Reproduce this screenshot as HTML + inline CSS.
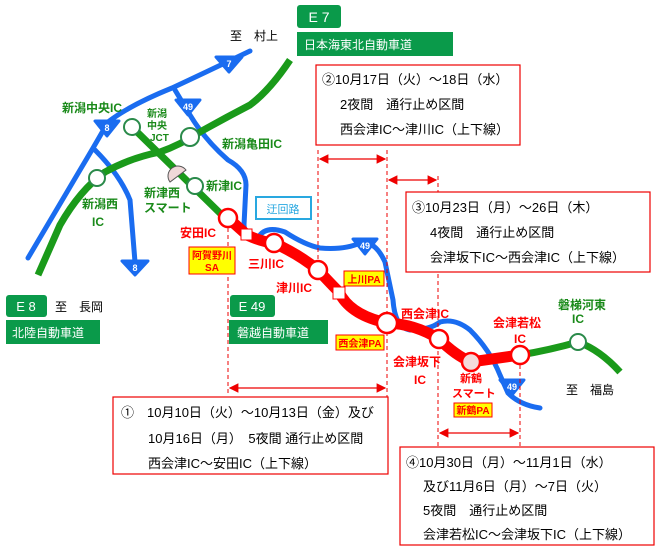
<!DOCTYPE html>
<html><head><meta charset="utf-8"><style>
html,body{margin:0;padding:0;background:#fff}
svg{display:block}
text{font-family:"Liberation Sans","Noto Sans CJK JP",sans-serif}
</style></head><body>
<svg width="660" height="549" viewBox="0 0 660 549" xmlns="http://www.w3.org/2000/svg">
<defs>
<marker id="a" markerWidth="8" markerHeight="8" refX="7" refY="4" orient="auto-start-reverse"><path d="M0,0 L8,4 L0,8 z" fill="#e00"/></marker>
</defs>
<!-- blue roads -->
<g fill="none" stroke="#1a6cf0" stroke-width="5" stroke-linecap="round">
<path d="M250,51 Q200,75 172,88 Q130,105 108,122 Q95,145 80,170 L28,258"/>
<path d="M95,150 Q120,175 130,200 L135,262"/>
<path d="M175,90 L190,115 Q205,140 228,160 Q246,170 246,185 L244,225 Q245,240 258,238 Q265,225 285,232 Q305,245 320,248 Q345,250 360,243 Q375,240 385,262 L393,300 Q395,328 410,330 Q430,330 440,322 Q455,318 470,330 Q490,350 500,375 L508,393 Q520,405 540,408"/>
</g>
<!-- green roads -->
<g fill="none" stroke="#1a9a1a" stroke-width="7" stroke-linecap="butt">
<path d="M290,60 Q270,90 250,105 Q225,118 200,132 Q180,145 160,152 Q130,158 105,172 Q80,190 60,225 L38,275"/>
<path d="M132,127 L225,218"/>
<path d="M520,355 Q550,350 578,342 Q600,350 620,372"/>
</g>
<!-- red road -->
<path d="M228,218 L247,235 Q262,242 274,243 Q300,255 318,270 Q332,285 339,292 Q350,315 387,323 Q415,324 439,339 Q455,355 471,362 L520,355" fill="none" stroke="#f00" stroke-width="11"/>
<!-- shields -->
<g fill="#1a6cf0" stroke="#1a6cf0" stroke-width="3" stroke-linejoin="round">
<path d="M216,57 h26 l-13,15 z"/><path d="M176,100 h24 l-12,15 z"/><path d="M95,121 h24 l-12,15 z"/><path d="M122,261 h26 l-13,14 z"/><path d="M353,239 h24 l-12,15 z"/><path d="M500,380 h24 l-12,15 z"/>
</g>
<g fill="#fff" font-size="9" font-weight="bold" text-anchor="middle">
<text x="229" y="67">7</text><text x="188" y="110">49</text><text x="107" y="131">8</text><text x="135" y="271">8</text><text x="365" y="249">49</text><text x="512" y="390">49</text>
</g>
<!-- dashed lines -->
<g stroke="#e00" stroke-width="1" stroke-dasharray="4,3">
<path d="M228,228 V395"/><path d="M318,150 V270"/><path d="M387,150 V397"/><path d="M438,176 V447"/><path d="M520,365 V447"/>
</g>
<!-- circles -->
<g stroke="#2a8a4a" stroke-width="2" fill="#fff">
<circle cx="132" cy="127" r="8"/><circle cx="190" cy="137" r="9"/><circle cx="97" cy="178" r="8"/><circle cx="195" cy="186" r="8"/><circle cx="578" cy="342" r="8"/>
</g>
<path d="M170,182 A10,10 0 0 1 186,170 Z" fill="#f0d8d8" stroke="#555" stroke-width="1"/>
<g stroke="#f00" stroke-width="2.5" fill="#fff">
<circle cx="228" cy="218" r="9"/><circle cx="274" cy="243" r="9"/><circle cx="318" cy="270" r="9"/><circle cx="387" cy="323" r="10"/><circle cx="439" cy="339" r="9"/><circle cx="520" cy="355" r="9"/>
<circle cx="471" cy="362" r="9" fill="#f4dada"/>
<rect x="241" y="229" width="11" height="11" stroke-width="1"/><rect x="333" y="287" width="12" height="12" stroke-width="1"/>
</g>
<g stroke="#e00" stroke-width="1.2" marker-start="url(#a)" marker-end="url(#a)">
<path d="M230,388 H385"/><path d="M320,159 H385"/><path d="M389,180 H436"/><path d="M440,433 H518"/>
</g>
<!-- green labels -->
<g fill="#1a8a1a" font-size="12" font-weight="bold">
<text x="62" y="112">新潟中央IC</text>
<text x="147" y="117" font-size="10">新潟</text><text x="147" y="129" font-size="10">中央</text><text x="150" y="141" font-size="10">JCT</text>
<text x="222" y="148">新潟亀田IC</text>
<text x="206" y="190">新津IC</text>
<text x="144" y="197">新津西</text><text x="144" y="212">スマート</text>
<text x="82" y="208">新潟西</text><text x="92" y="226">IC</text>
<text x="558" y="309">磐梯河東</text><text x="572" y="323">IC</text>
</g>
<!-- red labels -->
<g fill="#f00" font-size="12" font-weight="bold">
<text x="180" y="237">安田IC</text>
<text x="248" y="268">三川IC</text>
<text x="276" y="292">津川IC</text>
<text x="401" y="318">西会津IC</text>
<text x="493" y="327">会津若松</text><text x="514" y="343">IC</text>
<text x="393" y="366">会津坂下</text><text x="414" y="384">IC</text>
<text x="460" y="382" font-size="11">新鶴</text><text x="452" y="397" font-size="11">スマート</text>
</g>
<!-- PA boxes -->
<g stroke="#f00" stroke-width="1" fill="#ff0">
<rect x="189" y="247" width="46" height="27"/><rect x="344" y="271" width="40" height="15"/><rect x="336" y="335" width="48" height="15"/><rect x="454" y="403" width="38" height="14"/>
</g>
<g fill="#f00" font-size="10" font-weight="bold" text-anchor="middle">
<text x="212" y="259">阿賀野川</text><text x="212" y="271">SA</text>
<text x="364" y="283">上川PA</text><text x="360" y="347">西会津PA</text><text x="473" y="414">新鶴PA</text>
</g>
<!-- 迂回路 -->
<rect x="256" y="197" width="55" height="22" fill="#fff" stroke="#29a8e0" stroke-width="2"/>
<text x="283" y="213" fill="#29a8e0" font-size="11" text-anchor="middle">迂回路</text>
<!-- highway badges -->
<rect x="297" y="5" width="44" height="23" rx="3" fill="#0a9a4a"/><text x="319" y="22" fill="#fff" font-size="14" text-anchor="middle">E 7</text>
<rect x="297" y="32" width="156" height="24" fill="#0a9a4a"/><text x="304" y="49" fill="#fff" font-size="12">日本海東北自動車道</text>
<rect x="6" y="295" width="41" height="22" rx="3" fill="#0a9a4a"/><text x="26" y="311" fill="#fff" font-size="13" text-anchor="middle">E 8</text>
<rect x="6" y="320" width="94" height="24" fill="#0a9a4a"/><text x="12" y="337" fill="#fff" font-size="12">北陸自動車道</text>
<rect x="230" y="295" width="45" height="22" rx="3" fill="#0a9a4a"/><text x="252" y="311" fill="#fff" font-size="13" text-anchor="middle">E 49</text>
<rect x="229" y="320" width="99" height="24" fill="#0a9a4a"/><text x="237" y="337" fill="#fff" font-size="12">磐越自動車道</text>
<g font-size="12" fill="#000">
<text x="230" y="40">至　村上</text><text x="55" y="311">至　長岡</text><text x="566" y="394">至　福島</text>
</g>
<!-- info boxes -->
<g fill="#fff" stroke="#e00" stroke-width="1.2">
<rect x="316" y="65" width="204" height="80"/><rect x="406" y="192" width="244" height="80"/><rect x="113" y="397" width="275" height="77"/><rect x="400" y="447" width="254" height="98"/>
</g>
<g font-size="13" fill="#000">
<text x="322" y="84">②10月17日（火）～18日（水）</text>
<text x="340" y="109">2夜間　通行止め区間</text>
<text x="340" y="134">西会津IC～津川IC（上下線）</text>
<text x="412" y="212">③10月23日（月）～26日（木）</text>
<text x="430" y="237">4夜間　通行止め区間</text>
<text x="430" y="262">会津坂下IC～西会津IC（上下線）</text>
<text x="121" y="417">①　10月10日（火）～10月13日（金）及び</text>
<text x="148" y="443">10月16日（月）　5夜間  通行止め区間</text>
<text x="148" y="468">西会津IC～安田IC（上下線）</text>
<text x="406" y="467">④10月30日（月）～11月1日（水）</text>
<text x="423" y="491">及び11月6日（月）～7日（火）</text>
<text x="423" y="515">5夜間　通行止め区間</text>
<text x="423" y="539">会津若松IC～会津坂下IC（上下線）</text>
</g>
</svg>
</body></html>
